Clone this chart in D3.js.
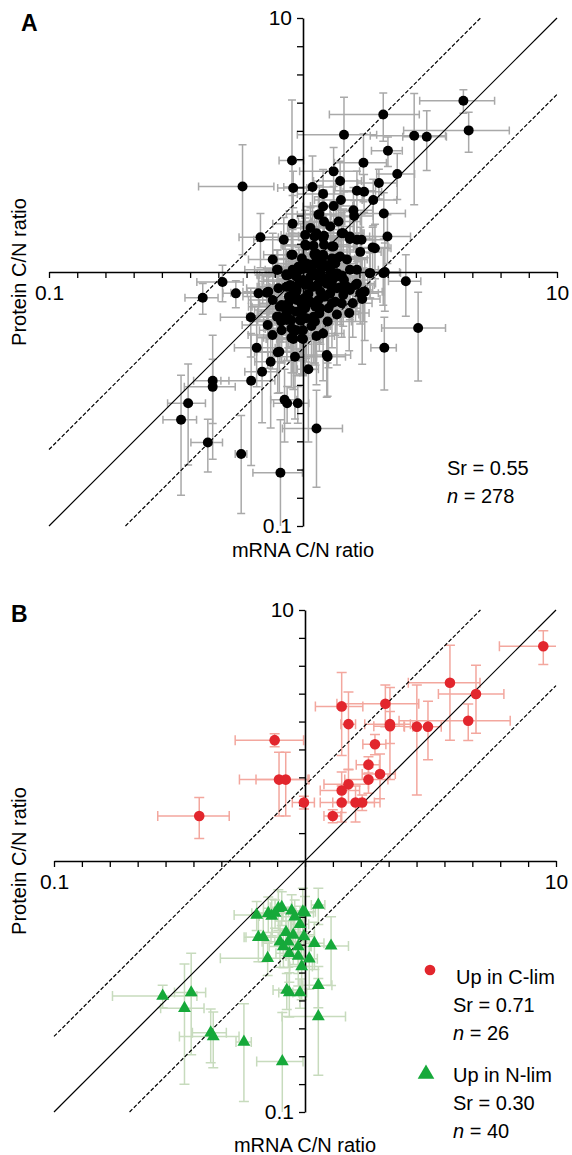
<!DOCTYPE html>
<html>
<head>
<meta charset="utf-8">
<script src="https://cdn.jsdelivr.net/npm/d3@7"></script>
<style>
  body { margin: 0; background: #fff; }
  text { font-family: "Liberation Sans", Arial, Helvetica, sans-serif; fill: #000; }
</style>
</head>
<body>
<div class="canvas"></div>
<script>
// ---- data: [mRNA C/N ratio, protein C/N ratio, mRNA SD, protein SD] ----
const pointsA = [
  [4.28, 4.72, 1.4, 0.5], [4.49, 3.61, 2.0, 0.65], [2.07, 4.17, 0.8, 0.9], [1.45, 3.47, 0.5, 1.4],
  [2.74, 3.44, 0.9, 1.6], [3.07, 3.41, 0.6, 0.9], [2.16, 3.0, 0.3, 0.4], [1.73, 2.69, 0.4, 0.8],
  [2.35, 2.43, 0.4, 0.5], [1.32, 2.49, 0.35, 0.6], [1.4, 2.28, 0.3, 0.45], [1.09, 2.16, 0.25, 0.7],
  [1.99, 2.24, 0.35, 0.3], [1.63, 2.09, 0.3, 0.4], [1.74, 2.07, 0.3, 0.35], [1.2, 2.03, 0.25, 0.5],
  [1.89, 1.92, 0.45, 0.4], [1.41, 1.92, 0.3, 0.3], [1.32, 1.82, 0.25, 0.35], [1.2, 1.81, 0.2, 0.3],
  [2.08, 1.7, 0.45, 0.35], [1.38, 1.58, 0.3, 0.3], [1.21, 1.58, 0.25, 0.4], [1.59, 1.66, 0.3, 0.25],
  [2.15, 1.38, 0.5, 0.3], [1.7, 1.34, 0.4, 0.35], [1.88, 1.25, 0.3, 0.25], [1.53, 1.35, 0.35, 0.3],
  [1.44, 1.42, 0.3, 0.35], [1.21, 1.39, 0.25, 0.3], [1.21, 1.28, 0.3, 0.25], [1.11, 1.38, 0.25, 0.35],
  [1.03, 1.27, 0.2, 0.3], [1.3, 1.26, 0.3, 0.3], [1.11, 1.18, 0.25, 0.25], [1.36, 1.13, 0.3, 0.25],
  [1.63, 1.02, 0.35, 0.3], [1.83, 0.99, 0.3, 0.2], [2.07, 0.99, 0.35, 0.25],
  [0.578, 2.17, 0.19, 1.0], [0.915, 2.14, 0.12, 0.35], [0.905, 2.75, 0.1, 2.0], [1.15, 1.68, 0.2, 0.3],
  [0.91, 1.55, 0.15, 0.45], [0.68, 1.37, 0.12, 0.33], [0.84, 1.34, 0.2, 0.3], [0.91, 1.17, 0.15, 0.3],
  [1.02, 1.28, 0.2, 0.35], [1.13, 1.18, 0.2, 0.2], [0.79, 1.02, 0.2, 0.2], [0.86, 0.98, 0.2, 0.25],
  [0.96, 1.05, 0.2, 0.2], [1.03, 1.08, 0.25, 0.3], [0.76, 1.12, 0.15, 0.3], [2.54, 0.92, 0.37, 0.25],
  [2.1, 1.0, 0.3, 0.3], [1.92, 1.24, 0.3, 0.3], [1.16, 1.69, 0.3, 0.5], [1.58, 1.75, 0.3, 0.4],
  [0.482, 0.913, 0.1, 0.15], [0.403, 0.792, 0.06, 0.11], [0.544, 0.824, 0.06, 0.1], [0.668, 0.824, 0.12, 0.15],
  [0.623, 0.663, 0.15, 0.2], [0.726, 0.618, 0.15, 0.2], [0.657, 0.503, 0.12, 0.15], [0.746, 0.443, 0.1, 0.2],
  [0.69, 0.405, 0.1, 0.15], [0.625, 0.373, 0.15, 0.2], [0.441, 0.373, 0.07, 0.19], [0.441, 0.353, 0.1, 0.1],
  [0.353, 0.304, 0.06, 0.13], [0.331, 0.262, 0.05, 0.13], [0.422, 0.213, 0.06, 0.05], [0.571, 0.192, 0.03, 0.08],
  [0.815, 0.162, 0.18, 0.1], [0.846, 0.314, 0.1, 0.1], [0.866, 0.304, 0.1, 0.05], [0.954, 0.304, 0.1, 0.05],
  [1.13, 0.242, 0.3, 0.1], [1.25, 0.464, 0.22, 0.14], [1.05, 0.414, 0.1, 0.2], [2.84, 0.602, 0.8, 0.23],
  [2.09, 0.503, 0.24, 0.16], [1.71, 0.783, 0.3, 0.35], [1.75, 0.837, 0.3, 0.3], [1.84, 0.99, 0.3, 0.2],
  [0.807, 0.485, 0.15, 0.15], [0.93, 0.464, 0.2, 0.2], [0.916, 0.545, 0.2, 0.2], [1.0, 0.545, 0.2, 0.15],
  [0.91, 0.596, 0.2, 0.15], [0.758, 0.565, 0.15, 0.15], [0.8, 0.667, 0.2, 0.2], [0.83, 0.73, 0.2, 0.2],
  [0.895, 0.708, 0.25, 0.2], [0.98, 0.643, 0.2, 0.25], [0.985, 0.687, 0.3, 0.15], [1.08, 0.613, 0.2, 0.2],
  [1.25, 0.638, 0.3, 0.2], [1.3, 0.753, 0.3, 0.25], [1.44, 0.812, 0.3, 0.2], [1.53, 0.849, 0.35, 0.2],
  [1.61, 0.889, 0.3, 0.25], [1.2, 0.8, 0.25, 0.2], [1.12, 0.73, 0.2, 0.3], [1.16, 0.687, 0.3, 0.2],
  [1.01, 0.788, 0.2, 0.2], [0.915, 0.824, 0.25, 0.25], [0.8, 0.863, 0.2, 0.2], [0.89, 0.889, 0.2, 0.3],
  [1.05, 0.93, 0.25, 0.2], [1.12, 0.97, 0.2, 0.25], [1.24, 0.9, 0.3, 0.2], [1.32, 0.95, 0.3, 0.3],
  [1.45, 0.93, 0.35, 0.2], [1.4, 0.87, 0.3, 0.25], [1.27, 0.82, 0.25, 0.2], [1.57, 0.753, 0.3, 0.2],
  [1.52, 0.69, 0.3, 0.2], [1.36, 0.68, 0.3, 0.25], [1.2, 0.573, 0.25, 0.2], [1.13, 0.56, 0.2, 0.2],
  [0.72, 0.829, 0.2, 0.2], [0.795, 0.483, 0.15, 0.15], [0.863, 0.647, 0.2, 0.2], [0.9, 0.6, 0.2, 0.25],
  [0.91, 0.551, 0.25, 0.15], [0.81, 0.73, 0.2, 0.2], [0.863, 0.698, 0.2, 0.25], [0.94, 0.698, 0.2, 0.2],
  [0.944, 0.776, 0.25, 0.2], [1.03, 0.742, 0.2, 0.3], [0.973, 0.647, 0.2, 0.2], [1.115, 0.638, 0.25, 0.2],
  [0.875, 0.973, 0.2, 0.2], [0.795, 1.02, 0.15, 0.2], [0.944, 0.849, 0.2, 0.2], [1.0, 0.93, 0.3, 0.25],
  [1.24, 0.471, 0.3, 0.15], [0.9, 1.17, 0.2, 0.25], [1.1, 1.27, 0.25, 0.3], [1.2, 1.36, 0.2, 0.3],
  [1.2, 1.17, 0.3, 0.2], [1.13, 1.15, 0.2, 0.25], [1.32, 1.26, 0.3, 0.3], [1.42, 1.42, 0.3, 0.3],
  [1.53, 1.38, 0.3, 0.35], [1.63, 1.34, 0.3, 0.3], [1.68, 1.2, 0.35, 0.3], [1.49, 1.12, 0.3, 0.25],
  [1.34, 1.08, 0.3, 0.2], [0.94, 0.98, 0.2, 0.2], [1.11, 1.08, 0.25, 0.2], [1.24, 1.05, 0.2, 0.25],
  [1.36, 0.99, 0.3, 0.2], [1.53, 1.02, 0.3, 0.2], [0.73, 0.837, 0.15, 0.2], [0.86, 0.875, 0.2, 0.2],
  [0.94, 0.875, 0.2, 0.25], [1.08, 0.875, 0.25, 0.2], [1.18, 0.916, 0.2, 0.2], [1.28, 0.889, 0.25, 0.25],
  [1.44, 0.863, 0.3, 0.2], [1.68, 0.824, 0.3, 0.2], [1.07, 1.49, 0.2, 0.3], [1.02, 1.4, 0.2, 0.35],
  [1.13, 1.42, 0.25, 0.3], [1.28, 1.51, 0.3, 0.3], [0.99, 1.13, 0.2, 0.2], [1.07, 1.02, 0.25, 0.2],
  [1.17, 0.99, 0.2, 0.25], [1.28, 1.02, 0.25, 0.2], [0.86, 0.97, 0.2, 0.2], [0.91, 1.02, 0.2, 0.25],
  [0.94, 0.96, 0.25, 0.2], [1.0, 1.03, 0.2, 0.2], [1.06, 1.07, 0.2, 0.25], [1.11, 1.17, 0.25, 0.2],
  [1.2, 1.15, 0.2, 0.2], [1.3, 1.13, 0.3, 0.25], [1.4, 1.15, 0.3, 0.2], [1.13, 1.08, 0.2, 0.2],
  [1.2, 1.08, 0.25, 0.25], [1.28, 1.07, 0.2, 0.2], [1.07, 0.96, 0.2, 0.2], [1.13, 0.97, 0.25, 0.2],
  [1.22, 0.93, 0.2, 0.25], [1.3, 0.916, 0.3, 0.2], [1.36, 0.96, 0.3, 0.2], [1.42, 0.97, 0.3, 0.25],
  [1.53, 0.863, 0.3, 0.2], [1.63, 0.9, 0.3, 0.2], [1.73, 0.837, 0.35, 0.2], [0.875, 0.875, 0.2, 0.2],
  [0.94, 0.837, 0.2, 0.2], [1.02, 0.889, 0.25, 0.2], [1.1, 0.875, 0.2, 0.25], [1.17, 0.837, 0.2, 0.2],
  [1.28, 0.824, 0.3, 0.2], [1.36, 0.863, 0.3, 0.2], [1.49, 0.875, 0.3, 0.2], [0.76, 0.776, 0.15, 0.2],
  [0.824, 0.742, 0.2, 0.2], [0.875, 0.753, 0.2, 0.25], [0.944, 0.788, 0.2, 0.2], [0.99, 0.742, 0.25, 0.2],
  [1.07, 0.764, 0.2, 0.2], [1.15, 0.776, 0.2, 0.25], [1.22, 0.8, 0.25, 0.2], [1.34, 0.764, 0.3, 0.2],
  [1.42, 0.753, 0.3, 0.2], [0.79, 0.667, 0.15, 0.2], [0.86, 0.687, 0.2, 0.2], [0.82, 0.638, 0.2, 0.2],
  [0.9, 0.647, 0.2, 0.2], [0.99, 0.698, 0.2, 0.25], [1.03, 0.657, 0.2, 0.2], [1.1, 0.667, 0.25, 0.2],
  [1.17, 0.72, 0.2, 0.2], [0.944, 0.59, 0.2, 0.2], [1.0, 0.59, 0.2, 0.2], [1.1, 0.638, 0.2, 0.2],
  [0.9, 0.551, 0.2, 0.15], [0.99, 0.548, 0.2, 0.15], [0.824, 0.59, 0.15, 0.15], [1.05, 0.82, 0.3, 0.3],
  [1.15, 0.9, 0.3, 0.3], [1.25, 0.95, 0.35, 0.3], [0.97, 0.92, 0.3, 0.3], [1.1, 1.0, 0.35, 0.35],
  [1.18, 1.05, 0.3, 0.3], [1.02, 0.72, 0.3, 0.3], [1.26, 0.72, 0.3, 0.3], [0.88, 0.8, 0.3, 0.3]
];
const cLimB = [
  [8.9, 7.17, 2.95, 1.1], [3.78, 5.13, 1.2, 2.1], [4.8, 4.63, 1.4, 1.4], [4.47, 3.62, 2.1, 0.6],
  [1.4, 4.13, 0.3, 1.5], [2.09, 4.23, 0.75, 0.8], [1.49, 3.51, 0.1, 1.2], [2.18, 3.51, 0.45, 1.4],
  [2.18, 3.44, 0.3, 0.5], [2.79, 3.43, 0.3, 1.6], [3.09, 3.43, 0.4, 0.9], [1.9, 2.92, 0.2, 0.27],
  [0.757, 3.03, 0.23, 0.18], [0.788, 2.11, 0.24, 0.6], [0.838, 2.11, 0.2, 0.6], [1.79, 2.42, 0.19, 0.18],
  [1.99, 2.22, 0.3, 0.45], [1.79, 2.11, 0.35, 0.25], [1.49, 2.02, 0.3, 0.3], [1.4, 1.91, 0.25, 0.35],
  [0.99, 1.71, 0.1, 0.1], [1.4, 1.71, 0.25, 0.28], [1.59, 1.71, 0.3, 0.28], [1.69, 1.71, 0.3, 0.12],
  [1.29, 1.51, 0.1, 0.09], [0.379, 1.51, 0.12, 0.28]
];
const nLimB = [
  [1.13, 0.668, 0.07, 0.11], [0.642, 0.609, 0.12, 0.08], [0.714, 0.619, 0.1, 0.1], [0.737, 0.604, 0.08, 0.1],
  [0.783, 0.648, 0.1, 0.12], [0.808, 0.654, 0.08, 0.1], [0.885, 0.634, 0.1, 0.1], [0.98, 0.628, 0.12, 0.15],
  [1.0, 0.622, 0.08, 0.1], [0.955, 0.56, 0.08, 0.1], [0.652, 0.497, 0.08, 0.1], [0.682, 0.497, 0.1, 0.1],
  [0.795, 0.477, 0.12, 0.1], [0.82, 0.456, 0.1, 0.08], [0.858, 0.477, 0.1, 0.1], [0.898, 0.507, 0.1, 0.12],
  [0.94, 0.456, 0.12, 0.1], [1.09, 0.47, 0.1, 0.1], [1.27, 0.459, 0.22, 0.14], [0.71, 0.41, 0.25, 0.06],
  [0.866, 0.429, 0.1, 0.1], [0.94, 0.418, 0.1, 0.1], [1.04, 0.408, 0.08, 0.1], [0.846, 0.306, 0.1, 0.05],
  [0.866, 0.299, 0.08, 0.06], [0.955, 0.299, 0.06, 0.04], [1.13, 0.32, 0.15, 0.06], [1.13, 0.24, 0.32, 0.1],
  [0.271, 0.29, 0.1, 0.03], [0.352, 0.299, 0.05, 0.13], [0.331, 0.259, 0.065, 0.13], [0.421, 0.207, 0.065, 0.05],
  [0.431, 0.2, 0.115, 0.05], [0.571, 0.19, 0.04, 0.08], [0.812, 0.159, 0.17, 0.09], [0.91, 0.6, 0.1, 0.1],
  [0.76, 0.62, 0.12, 0.08], [0.84, 0.52, 0.1, 0.1], [0.99, 0.5, 0.1, 0.12], [0.97, 0.38, 0.1, 0.1]
];
const axisEnds = [0.1, 10];
const axisEndLabels = ["0.1", "10"];
const refFolds = [1, 2, 0.5];
const statsA = ["Sr = 0.55", "278"];
const legendB = ["Up in C-lim", "Sr = 0.71", "26", "Up in N-lim", "Sr = 0.30", "40"];

const svg = d3.select(".canvas").append("svg")
  .attr("width", 572).attr("height", 1155)
  .style("background", "#fff");

// evenly spaced ticks: 9 per decade
const tickVals = d3.range(-9, 10).map(k => Math.pow(10, k / 9));
const tickFmt = v => {
  const i = axisEnds.findIndex(e => Math.abs(e - v) < 1e-6);
  return i < 0 ? "" : axisEndLabels[i];
};

function barPath(x, y, d, cap) {
  const [mx, my, sx, sy] = d;
  const cx = x(mx), cy = y(my);
  const x0 = x(Math.max(mx - sx, 0.01)), x1 = x(mx + sx);
  const y0 = y(Math.max(my - sy, 0.01)), y1 = y(my + sy);
  return `M${x0},${cy}H${x1}M${x0},${cy - cap}V${cy + cap}M${x1},${cy - cap}V${cy + cap}` +
    `M${cx},${y0}V${y1}M${cx - cap},${y0}H${cx + cap}M${cx - cap},${y1}H${cx + cap}`;
}

function drawPanel(cfg) {
  const x = d3.scaleLog().domain([0.1, 10]).range([cfg.left, cfg.right]);
  const y = d3.scaleLog().domain([0.1, 10]).range([cfg.bottom, cfg.top]);
  const g = svg.append("g");

  g.append("clipPath").attr("id", cfg.id).append("rect")
    .attr("x", cfg.left).attr("y", cfg.top)
    .attr("width", cfg.right - cfg.left).attr("height", cfg.bottom - cfg.top);

  // error bars
  const bars = g.append("g").attr("clip-path", `url(#${cfg.id})`);
  cfg.series.forEach(s => {
    bars.append("g").selectAll("path").data(s.data).join("path")
      .attr("d", d => barPath(x, y, d, s.cap))
      .attr("fill", "none")
      .attr("stroke", s.barColor)
      .attr("stroke-width", 1.5);
  });

  // reference lines y = x, 2x, x/2
  g.append("g").selectAll("line").data(refFolds).join("line")
    .attr("x1", f => x(Math.max(0.1, 0.1 / f)))
    .attr("y1", f => y(f * Math.max(0.1, 0.1 / f)))
    .attr("x2", f => x(Math.min(10, 10 / f)))
    .attr("y2", f => y(f * Math.min(10, 10 / f)))
    .attr("stroke", "#000")
    .attr("stroke-width", 1.2)
    .attr("stroke-dasharray", f => (f === 1 ? null : "4,2"));

  // axes crossing at 1
  const xAxis = d3.axisBottom(x).tickValues(tickVals).tickFormat(tickFmt)
    .tickSize(6).tickSizeOuter(0).tickPadding(7);
  const yAxis = d3.axisLeft(y).tickValues(tickVals).tickFormat(tickFmt)
    .tickSize(6).tickSizeOuter(0).tickPadding(5);

  const xg = g.append("g").attr("transform", `translate(0,${y(1)})`).call(xAxis);
  const yg = g.append("g").attr("transform", `translate(${x(1)},0)`).call(yAxis);
  [xg, yg].forEach(a => {
    a.select(".domain").attr("stroke-width", 1.6);
    a.selectAll(".tick line").attr("stroke-width", 1.3);
    a.selectAll("text").attr("font-size", 21).attr("font-family", "Liberation Sans, Arial, sans-serif");
  });

  // markers
  cfg.series.forEach(s => {
    g.append("g").selectAll("path").data(s.data).join("path")
      .attr("transform", d => `translate(${x(d[0])},${y(d[1])})`)
      .attr("d", d3.symbol(s.symbol, s.size))
      .attr("fill", s.color);
  });

  // titles
  g.append("text")
    .attr("transform", `translate(26,${y(1)}) rotate(-90)`)
    .attr("text-anchor", "middle").attr("font-size", 20)
    .text("Protein C/N ratio");
  g.append("text")
    .attr("x", x(1)).attr("y", cfg.titleY)
    .attr("text-anchor", "middle").attr("font-size", 20)
    .text("mRNA C/N ratio");
  g.append("text")
    .attr("x", cfg.labelX).attr("y", cfg.labelY)
    .attr("font-size", 23).attr("font-weight", "bold")
    .text(cfg.label);

  return { x, y, g };
}

drawPanel({
  id: "clipA", label: "A", labelX: 21, labelY: 31, titleY: 557,
  left: 49, right: 557, top: 18, bottom: 526,
  series: [{ data: pointsA, color: "#000", barColor: "#a9a9a9", cap: 4, symbol: d3.symbolCircle, size: 78 }]
});

drawPanel({
  id: "clipB", label: "B", labelX: 11, labelY: 622, titleY: 1152,
  left: 54, right: 556, top: 610, bottom: 1112,
  series: [
    { data: cLimB, color: "#e2262d", barColor: "#f3a79e", cap: 5, symbol: d3.symbolCircle, size: 88 },
    { data: nLimB, color: "#16a93a", barColor: "#c7dbbd", cap: 5, symbol: d3.symbolTriangle, size: 72 }
  ]
});

// stats panel A
const sA = svg.append("g").attr("font-size", 20);
sA.append("text").attr("x", 447).attr("y", 475).text(statsA[0]);
const nA = sA.append("text").attr("x", 447).attr("y", 503);
nA.append("tspan").attr("font-style", "italic").text("n");
nA.append("tspan").text(" = " + statsA[1]);

// legend panel B
const lg = svg.append("g").attr("font-size", 20);
lg.append("path").attr("transform", "translate(430,970)")
  .attr("d", d3.symbol(d3.symbolCircle, 90)).attr("fill", "#e2262d");
lg.append("path").attr("transform", "translate(426,1074)")
  .attr("d", d3.symbol(d3.symbolTriangle, 120)).attr("fill", "#16a93a");
[[0, 984, 456], [1, 1012, 453], [2, 1040, 453], [3, 1082, 453], [4, 1110, 453], [5, 1138, 453]].forEach(([i, yy, xx]) => {
  const t = lg.append("text").attr("x", xx).attr("y", yy);
  if (i === 2 || i === 5) {
    t.append("tspan").attr("font-style", "italic").text("n");
    t.append("tspan").text(" = " + legendB[i]);
  } else {
    t.text(legendB[i]);
  }
});
</script>
</body>
</html>
